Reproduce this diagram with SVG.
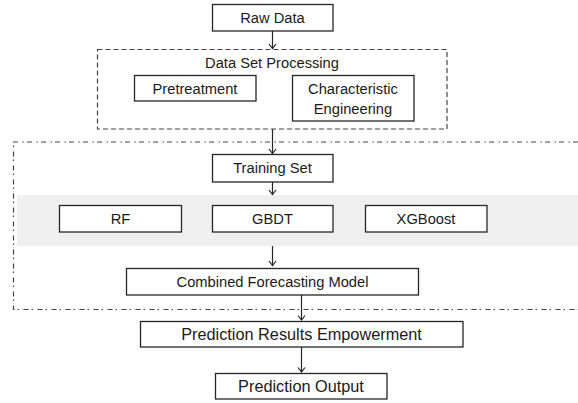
<svg xmlns="http://www.w3.org/2000/svg" width="578" height="403" viewBox="0 0 578 403">
<style>
.box{fill:#fff;stroke:#262626;stroke-width:1.3}
.t{font-family:"Liberation Sans",Arial,sans-serif;font-size:14.7px;fill:#1a1a1a;text-anchor:middle}
.tb{font-size:16.3px}
.c{stroke:#262626;stroke-width:1.2;fill:none}
</style>
<defs>
<marker id="ah" markerWidth="10" markerHeight="10" refX="8" refY="5" orient="auto" markerUnits="userSpaceOnUse" viewBox="0 0 10 10">
<path d="M3.5,1.5 L8,5 L3.5,8.5" fill="none" stroke="#262626" stroke-width="1.2"/>
</marker>
</defs>
<rect width="578" height="403" fill="#fff"/>
<g id="model-band"><rect x="17" y="195" width="561" height="51" fill="#efefef"/></g>
<g id="training-group"><path d="M578,142 H13.5 V309.5 H578" fill="none" stroke="#444" stroke-width="1.2" stroke-dasharray="5,3,1.5,4.5"/></g>
<g id="data-set-processing">
<rect x="97.5" y="49.5" width="349.5" height="79.5" fill="none" stroke="#444" stroke-width="1.2" stroke-dasharray="5,3"/>
<text class="t" x="272" y="68">Data Set Processing</text>
</g>
<g id="raw-data"><rect class="box" x="212.5" y="4.5" width="120.5" height="26.5"/><text class="t" x="272.5" y="22.8">Raw Data</text></g>
<g id="pretreatment"><rect class="box" x="134.5" y="75.5" width="121.5" height="25.5"/><text class="t" x="195" y="93.5">Pretreatment</text></g>
<g id="characteristic-engineering"><rect class="box" x="292.5" y="75.5" width="121.5" height="45.5"/><text class="t" x="353" y="93.8">Characteristic</text><text class="t" x="353" y="113.8">Engineering</text></g>
<g id="training-set"><rect class="box" x="212.5" y="154.5" width="120.5" height="27.5"/><text class="t" x="272.5" y="173.3">Training Set</text></g>
<g id="rf"><rect class="box" x="59.5" y="205.5" width="122" height="26.5"/><text class="t" x="120.5" y="224">RF</text></g>
<g id="gbdt"><rect class="box" x="212.5" y="205.5" width="120.5" height="26.5"/><text class="t" x="272.5" y="224">GBDT</text></g>
<g id="xgboost"><rect class="box" x="365.5" y="205.5" width="121.5" height="26.5"/><text class="t" x="426" y="224">XGBoost</text></g>
<g id="combined-model"><rect class="box" x="126.5" y="268.5" width="292" height="26.5"/><text class="t" x="272.5" y="287">Combined Forecasting Model</text></g>
<g id="prediction-results"><rect class="box" x="140.5" y="321.5" width="322.5" height="25.5"/><text class="t tb" x="301.5" y="340">Prediction Results Empowerment</text></g>
<g id="prediction-output"><rect class="box" x="215.5" y="373.5" width="171.5" height="25.5"/><text class="t tb" x="301" y="392">Prediction Output</text></g>
<g id="connectors">
<line class="c" x1="272.5" y1="31" x2="272.5" y2="48.5" marker-end="url(#ah)"/>
<line class="c" x1="272.5" y1="129" x2="272.5" y2="153.5" marker-end="url(#ah)"/>
<line class="c" x1="272.5" y1="182" x2="272.5" y2="194.5" marker-end="url(#ah)"/>
<line class="c" x1="272.5" y1="246" x2="272.5" y2="265.5" marker-end="url(#ah)"/>
<line class="c" x1="301.5" y1="295" x2="301.5" y2="320" marker-end="url(#ah)"/>
<line class="c" x1="301.5" y1="347" x2="301.5" y2="372" marker-end="url(#ah)"/>
</g>
</svg>
